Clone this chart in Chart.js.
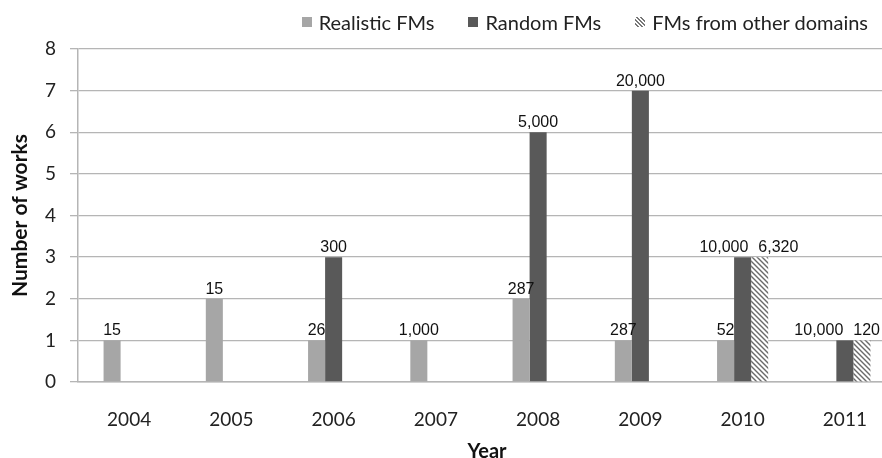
<!DOCTYPE html>
<html>
<head>
<meta charset="utf-8">
<script src="https://cdn.jsdelivr.net/npm/chart.js@4"></script>
<style>
  body { margin: 0; background: #fff; }
  #clip { position: relative; width: 882px; height: 458px; overflow: hidden; }
  #inner { width: 896px; height: 458px; }
  #legend { position: absolute; top: 10px; right: 14px; display: flex; font: 20px Lato, sans-serif; color: #222; }
  #legend span.item { display: flex; align-items: center; margin-left: 34px; }
  #legend span.box { width: 10px; height: 10px; margin-right: 7px; display: inline-block; }
</style>
</head>
<body>
<div id="clip"><div id="inner"><canvas id="myChart"></canvas></div>
<div id="legend">
  <span class="item"><span class="box" style="background:#a6a6a6"></span>Realistic FMs</span>
  <span class="item"><span class="box" style="background:#595959"></span>Random FMs</span>
  <span class="item"><span class="box" style="background:repeating-linear-gradient(45deg,#fff 0 1.5px,#777 1.5px 3px)"></span>FMs from other domains</span>
</div>
</div>
<script>
const years = ["2004", "2005", "2006", "2007", "2008", "2009", "2010", "2011"];

// number of works per year
const realistic = [1, 2, 1, 1, 2, 1, 1, 0];
const random = [0, 0, 3, 0, 6, 7, 3, 1];
const otherDomains = [0, 0, 0, 0, 0, 0, 3, 1];

// numbers written above the bars
const realisticLabels = ["15", "15", "26", "1,000", "287", "287", "52", null];
const randomLabels = [null, null, "300", null, "5,000", "20,000", "10,000", "10,000"];
const otherLabels = [null, null, null, null, null, null, "6,320", "120"];

const yTicks = [0, 1, 2, 3, 4, 5, 6, 7, 8];

// diagonal hatch for the third series
function hatch() {
  const c = document.createElement("canvas");
  c.width = 5;
  c.height = 5;
  const g = c.getContext("2d");
  g.fillStyle = "#fff";
  g.fillRect(0, 0, 5, 5);
  g.strokeStyle = "#6a6a6a";
  g.lineWidth = 1.4;
  g.beginPath();
  g.moveTo(-1, -1); g.lineTo(6, 6);
  g.moveTo(-1, 4); g.lineTo(1, 6);
  g.moveTo(4, -1); g.lineTo(6, 1);
  g.stroke();
  return g.createPattern(c, "repeat");
}

// text above bars; labels on the same line get pushed apart like Excel does
const LABEL_GAP = 10;
const LABEL_MAX_RIGHT = 880;
const barLabels = {
  id: "barLabels",
  afterDatasetsDraw(chart) {
    const ctx = chart.ctx;
    ctx.save();
    ctx.font = "16px 'Liberation Sans', Arial, sans-serif";
    ctx.fillStyle = "#111";
    ctx.textAlign = "center";
    ctx.textBaseline = "alphabetic";
    years.forEach((_, j) => {
      const items = [];
      chart.data.datasets.forEach((ds, i) => {
        const t = ds.barText[j];
        if (!t) return;
        const bar = chart.getDatasetMeta(i).data[j];
        items.push({ t, x: bar.x, y: bar.y - 5, w: ctx.measureText(t).width });
      });
      for (let k = 1; k < items.length; k++) {
        const a = items[k - 1], b = items[k];
        if (Math.abs(a.y - b.y) > 12) continue;
        const over = a.x + a.w / 2 + LABEL_GAP - (b.x - b.w / 2);
        if (over > 0) { a.x -= over / 2; b.x += over / 2; }
      }
      const last = items[items.length - 1];
      if (last && last.x + last.w / 2 > LABEL_MAX_RIGHT) {
        const d = last.x + last.w / 2 - LABEL_MAX_RIGHT;
        items.forEach((it) => { if (Math.abs(it.y - last.y) <= 12) it.x -= d; });
      }
      items.forEach((it) => ctx.fillText(it.t, it.x, it.y));
    });
    ctx.restore();
  },
};

const tickFont = { family: "Lato", size: 19 };

const ctx = document.getElementById("myChart").getContext("2d");

const myChart = new Chart(ctx, {
  type: "bar",
  data: {
    labels: years,
    datasets: [
      { label: "Realistic FMs", data: realistic, barText: realisticLabels, backgroundColor: "#a6a6a6" },
      { label: "Random FMs", data: random, barText: randomLabels, backgroundColor: "#595959" },
      { label: "FMs from other domains", data: otherDomains, barText: otherLabels, backgroundColor: hatch() },
    ],
  },
  options: {
    responsive: true,
    maintainAspectRatio: false,
    animation: false,
    categoryPercentage: 0.5,
    barPercentage: 1,
    layout: { padding: { top: 49, left: 0, right: 0, bottom: 0 } },
    plugins: { legend: { display: false }, tooltip: { enabled: false } },
    scales: {
      x: {
        grid: { display: false, drawTicks: false },
        border: { color: "#b5b5b5", width: 1.5 },
        ticks: { font: tickFont, color: "#222", padding: 26 },
        title: { display: true, text: "Year", font: { family: "Lato", size: 20, weight: "bold" }, color: "#111", padding: { top: 0, bottom: -6 } },
        afterFit: (s) => { s.height = 76; },
      },
      y: {
        min: 0,
        max: 8,
        afterBuildTicks: (s) => { s.ticks = yTicks.map((v) => ({ value: v })); },
        grid: { color: "#b5b5b5", lineWidth: 1.3, tickLength: 8 },
        border: { color: "#b5b5b5", width: 1.5 },
        ticks: { font: tickFont, color: "#222", padding: 14 },
        title: { display: true, text: "Number of works", font: { family: "Lato", size: 21, weight: "bold" }, color: "#111", padding: { top: 8, bottom: 0 } },
        afterFit: (s) => { s.width = 78; },
      },
    },
  },
  plugins: [barLabels],
});
</script>
</body>
</html>
